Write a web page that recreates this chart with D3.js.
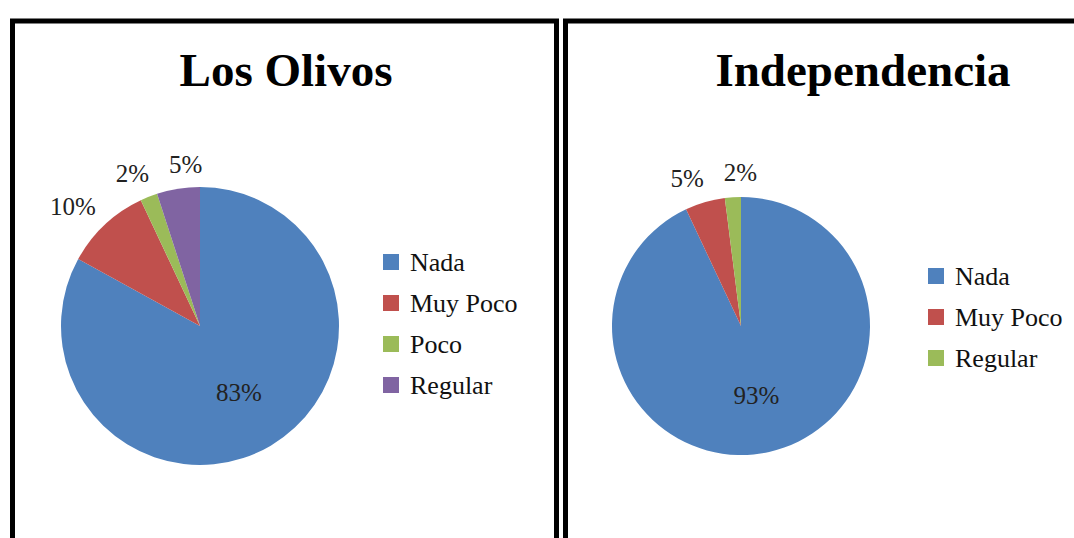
<!DOCTYPE html>
<html>
<head>
<meta charset="utf-8">
<script src="https://cdn.jsdelivr.net/npm/d3@7"></script>
<style>
  html, body { margin: 0; padding: 0; background: #fff; }
  svg { display: block; }
</style>
</head>
<body>
<svg id="chart" width="1074" height="538"></svg>
<script>
// Survey answers per district (percent of respondents)
const olivosCategories = ["Nada", "Muy Poco", "Poco", "Regular"];
const olivosValues = [83, 10, 2, 5];

const independenciaCategories = ["Nada", "Muy Poco", "Regular"];
const independenciaValues = [93, 5, 2];

// Office palette, assigned by slice order within each pie
const palette = ["#4F81BD", "#C0504D", "#9BBB59", "#8064A2"];

const svg = d3.select("#chart");
const serif = "'Liberation Serif', 'Times New Roman', serif";
const labelSize = 25;

const panels = [
  {
    title: "Los Olivos", categories: olivosCategories, values: olivosValues,
    box: { x: 12.5, y: 21, w: 544 },
    titleX: 286, cx: 200, cy: 326, r: 139,
    legendX: 383, legendY: 262
  },
  {
    title: "Independencia", categories: independenciaCategories, values: independenciaValues,
    box: { x: 565.5, y: 21, w: 560 },
    titleX: 863, cx: 741, cy: 326, r: 129,
    legendX: 928, legendY: 276
  }
];

panels.forEach(p => {
  const g = svg.append("g");
  const color = d3.scaleOrdinal().domain(p.categories).range(palette);

  // panel frame
  g.append("rect")
    .attr("x", p.box.x).attr("y", p.box.y)
    .attr("width", p.box.w).attr("height", 600)
    .attr("fill", "none").attr("stroke", "#000").attr("stroke-width", 5);

  g.append("text")
    .attr("x", p.titleX).attr("y", 86)
    .attr("text-anchor", "middle")
    .attr("font-family", serif).attr("font-weight", "bold")
    .attr("font-size", 47)
    .attr("fill", "#000")
    .text(p.title);

  const data = p.categories.map((c, i) => ({ category: c, value: p.values[i] }));
  const pie = d3.pie().value(d => d.value).sort(null);
  const arcs = pie(data);
  const arc = d3.arc().innerRadius(0).outerRadius(p.r);

  const pg = g.append("g").attr("transform", `translate(${p.cx},${p.cy})`);
  pg.selectAll("path")
    .data(arcs)
    .join("path")
    .attr("d", arc)
    .attr("fill", d => color(d.data.category));

  const inner = d3.arc().innerRadius(p.r * 0.55).outerRadius(p.r * 0.55);
  const labelWidth = d => String(d.data.value).length * labelSize * 0.5 + labelSize * 0.83;

  // largest slice gets its label inside, the others just outside the rim
  const positions = arcs.map((d, i) => {
    if (i === 0) return { x: inner.centroid(d)[0], y: inner.centroid(d)[1], w: labelWidth(d), outside: false };
    const a = (d.startAngle + d.endAngle) / 2;
    const dx = Math.sin(a), dy = -Math.cos(a);
    const w = labelWidth(d);
    const h = labelSize * 0.72;
    const rr = p.r + 14;
    return { x: dx * rr + dx * w / 2, y: dy * rr + dy * h / 2 - 2, w, outside: true };
  });

  // spread neighbouring outside labels so they keep a clear gap
  const outside = positions.filter(q => q.outside).sort((a, b) => a.x - b.x);
  for (let iter = 0; iter < 6; iter++) {
    for (let k = 0; k < outside.length - 1; k++) {
      const a = outside[k], b = outside[k + 1];
      const gap = (b.x - b.w / 2) - (a.x + a.w / 2);
      if (gap < 20) {
        const push = (20 - gap) / 2;
        a.x -= push;
        b.x += push;
      }
    }
  }

  pg.selectAll("text")
    .data(arcs)
    .join("text")
    .attr("transform", (d, i) => `translate(${positions[i].x},${positions[i].y})`)
    .attr("text-anchor", "middle")
    .attr("dy", "0.35em")
    .attr("font-family", serif)
    .attr("font-size", labelSize)
    .attr("fill", "#222")
    .text(d => d.data.value + "%");

  // legend
  const lg = g.append("g").attr("transform", `translate(${p.legendX},${p.legendY})`);
  const rows = lg.selectAll("g")
    .data(p.categories)
    .join("g")
    .attr("transform", (d, i) => `translate(0,${i * 41})`);
  rows.append("rect")
    .attr("x", 0).attr("y", -8)
    .attr("width", 16).attr("height", 16)
    .attr("fill", d => color(d));
  rows.append("text")
    .attr("x", 27).attr("y", 0).attr("dy", "0.35em")
    .attr("font-family", serif).attr("font-size", 26)
    .attr("fill", "#111")
    .text(d => d);
});
</script>
</body>
</html>
